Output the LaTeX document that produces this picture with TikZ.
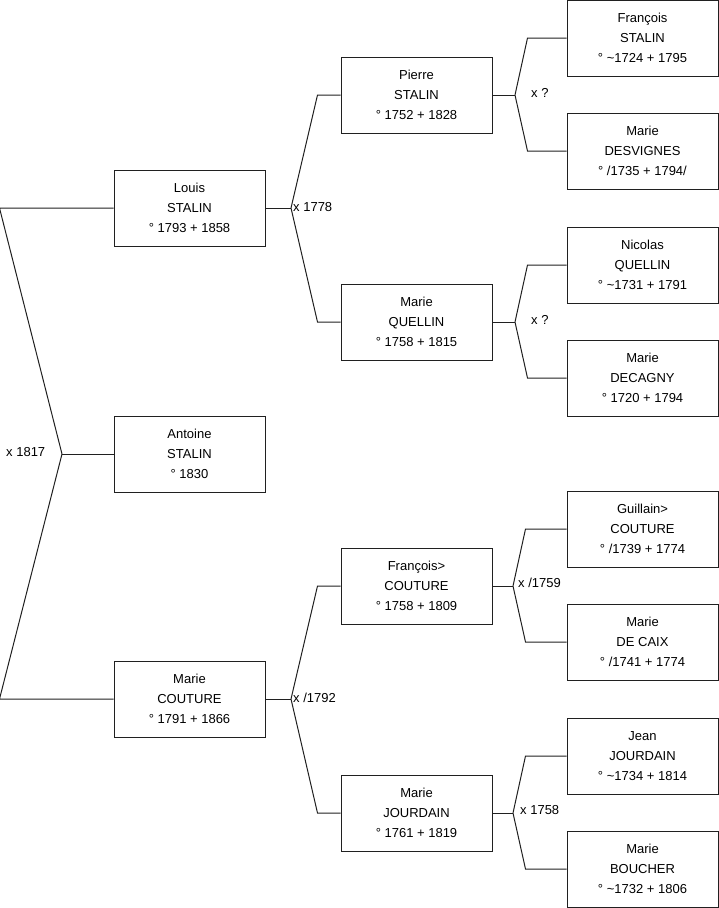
\documentclass[tikz,border=0pt]{standalone}
\usepackage{fontspec}
\setmainfont{Liberation Sans}
\usepackage{tikz}
\usetikzlibrary{calc,positioning}
\definecolor{treeLine}{HTML}{202020}

\begin{document}
\begin{tikzpicture}[x=1pt, y=-1pt,
    every node/.style={font=\fontsize{13}{20}\selectfont},
    person/.style={draw=treeLine, line width=1pt, minimum width=151pt,
                   minimum height=76pt, inner sep=0pt, align=center},
    link/.style={draw=treeLine, line width=1pt},
    wed/.style={anchor=west, inner sep=0pt}]

    \useasboundingbox (0,0) rectangle (719,908);

    % === Generation 0 ===
    \node[person] (antoine) at (189.5,454) {Antoine\\STALIN\\° 1830};

    % === Parents ===
    \node[person] (louis)   at (189.5,208) {Louis\\STALIN\\° 1793 + 1858};
    \node[person] (marieC)  at (189.5,699) {Marie\\COUTURE\\° 1791 + 1866};

    % === Grandparents ===
    \node[person] (pierre)   at (416.5,95)  {Pierre\\STALIN\\° 1752 + 1828};
    \node[person] (marieQ)   at (416.5,322) {Marie\\QUELLIN\\° 1758 + 1815};
    \node[person] (francoisC) at (416.5,586) {François>\\COUTURE\\° 1758 + 1809};
    \node[person] (marieJ)   at (416.5,813) {Marie\\JOURDAIN\\° 1761 + 1819};

    % === Great-grandparents ===
    \node[person] (francoisS) at (642.5,38)  {François\\STALIN\\° \textasciitilde1724 + 1795};
    \node[person] (marieD)    at (642.5,151) {Marie\\DESVIGNES\\° /1735 + 1794/};
    \node[person] (nicolas)   at (642.5,265) {Nicolas\\QUELLIN\\° \textasciitilde1731 + 1791};
    \node[person] (marieDC)   at (642.5,378) {Marie\\DECAGNY\\° 1720 + 1794};
    \node[person] (guillain)  at (642.5,529) {Guillain>\\COUTURE\\° /1739 + 1774};
    \node[person] (marieDX)   at (642.5,642) {Marie\\DE CAIX\\° /1741 + 1774};
    \node[person] (jean)      at (642.5,756) {Jean\\JOURDAIN\\° \textasciitilde1734 + 1814};
    \node[person] (marieB)    at (642.5,869) {Marie\\BOUCHER\\° \textasciitilde1732 + 1806};

    % === Marriage forks ===
    \coordinate (j1817) at (62,454);
    \coordinate (j1778) at (291,208);
    \coordinate (j1792) at (291,699);
    \coordinate (jPQ)   at (515,95);
    \coordinate (jNQ)   at (515,322);
    \coordinate (j1759) at (513,586);
    \coordinate (j1758) at (513,813);

    \draw[link] (antoine.west) -- (j1817);
    \draw[link] (louis.west) -- ++(-114,0) -- (j1817);
    \draw[link] (marieC.west) -- ++(-114,0) -- (j1817);

    \draw[link] (louis.east) -- (j1778);
    \draw[link] (pierre.west) -- ++(-23,0) -- (j1778);
    \draw[link] (marieQ.west) -- ++(-23,0) -- (j1778);

    \draw[link] (marieC.east) -- (j1792);
    \draw[link] (francoisC.west) -- ++(-23,0) -- (j1792);
    \draw[link] (marieJ.west) -- ++(-23,0) -- (j1792);

    \draw[link] (pierre.east) -- (jPQ);
    \draw[link] (francoisS.west) -- ++(-39,0) -- (jPQ);
    \draw[link] (marieD.west) -- ++(-39,0) -- (jPQ);

    \draw[link] (marieQ.east) -- (jNQ);
    \draw[link] (nicolas.west) -- ++(-39,0) -- (jNQ);
    \draw[link] (marieDC.west) -- ++(-39,0) -- (jNQ);

    \draw[link] (francoisC.east) -- (j1759);
    \draw[link] (guillain.west) -- ++(-41,0) -- (j1759);
    \draw[link] (marieDX.west) -- ++(-41,0) -- (j1759);

    \draw[link] (marieJ.east) -- (j1758);
    \draw[link] (jean.west) -- ++(-41,0) -- (j1758);
    \draw[link] (marieB.west) -- ++(-41,0) -- (j1758);

    % === Marriage dates ===
    \node[wed] (w1817) at (6,452)   {x 1817};
    \node[wed] (w1778) at (293,207) {x 1778};
    \node[wed] (w1792) at (293,698) {x /1792};
    \node[wed] (wPQ)   at (531,93)  {x ?};
    \node[wed] (wNQ)   at (531,320) {x ?};
    \node[wed] (w1759) at (518,583) {x /1759};
    \node[wed] (w1758) at (520,810) {x 1758};
\end{tikzpicture}
\end{document}
